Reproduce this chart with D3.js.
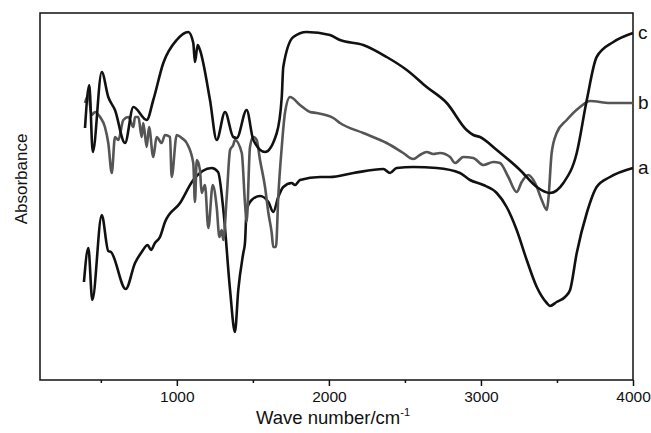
<!DOCTYPE html>
<html>
<head>
<meta charset="utf-8">
<script src="https://cdnjs.cloudflare.com/ajax/libs/d3/7.8.5/d3.min.js"></script>
<style>
  body { margin: 0; background: #fff; }
  text { font-family: Arial, "Liberation Sans", sans-serif; fill: #111; }
</style>
</head>
<body>
<div id="vis"></div>
<script>
// wave number (cm-1) / absorbance (a.u.)
const waveA = [389, 418, 444, 506, 549, 567, 664, 725, 769, 808, 830, 856, 889, 922, 1021, 1108, 1229, 1271, 1306, 1350, 1382, 1404, 1437, 1448, 1459, 1492, 1547, 1602, 1634, 1667, 1700, 1755, 1777, 1810, 1942, 2007, 2161, 2358, 2402, 2446, 2555, 2709, 2862, 2928, 3016, 3104, 3169, 3235, 3301, 3367, 3433, 3454, 3498, 3553, 3586, 3630, 3696, 3761, 3849, 4000];
const absA  = [0.98, 1.32, 0.80, 1.65, 1.29, 1.28, 0.91, 1.17, 1.28, 1.35, 1.30, 1.37, 1.43, 1.58, 1.77, 2.00, 2.12, 2.08, 1.70, 0.90, 0.48, 0.90, 1.27, 1.37, 1.70, 1.80, 1.84, 1.78, 1.68, 1.83, 1.93, 1.97, 1.95, 2.00, 2.03, 2.03, 2.07, 2.11, 2.07, 2.12, 2.13, 2.12, 2.07, 2.00, 1.95, 1.87, 1.73, 1.50, 1.20, 0.93, 0.77, 0.74, 0.78, 0.83, 0.90, 1.27, 1.67, 1.93, 2.03, 2.12];

const waveB = [396, 418, 440, 462, 495, 527, 549, 572, 593, 615, 648, 681, 714, 725, 747, 769, 779, 802, 817, 845, 867, 900, 922, 955, 966, 999, 1032, 1065, 1108, 1119, 1131, 1152, 1163, 1185, 1207, 1236, 1262, 1280, 1295, 1306, 1328, 1350, 1371, 1382, 1427, 1448, 1459, 1481, 1503, 1525, 1547, 1580, 1602, 1624, 1634, 1652, 1667, 1690, 1711, 1744, 1810, 1876, 1920, 2029, 2073, 2226, 2380, 2489, 2555, 2599, 2643, 2687, 2731, 2797, 2830, 2884, 2950, 3016, 3081, 3125, 3180, 3235, 3268, 3311, 3356, 3400, 3433, 3443, 3465, 3498, 3564, 3652, 3717, 3849, 4000];
const absB  = [2.77, 2.85, 2.65, 2.68, 2.63, 2.53, 2.37, 2.07, 2.43, 2.40, 2.60, 2.63, 2.53, 2.63, 2.63, 2.43, 2.57, 2.33, 2.53, 2.23, 2.43, 2.37, 2.45, 2.43, 2.03, 2.45, 2.42, 2.37, 2.17, 1.78, 2.20, 2.10, 1.87, 1.95, 1.52, 1.95, 1.73, 1.43, 1.50, 1.40, 1.83, 2.30, 2.35, 2.40, 2.27, 1.77, 1.58, 2.33, 2.43, 2.40, 2.20, 1.93, 1.67, 1.47, 1.33, 1.33, 1.83, 2.33, 2.67, 2.83, 2.75, 2.68, 2.67, 2.62, 2.57, 2.47, 2.37, 2.27, 2.21, 2.25, 2.28, 2.26, 2.27, 2.23, 2.17, 2.23, 2.22, 2.15, 2.18, 2.17, 2.03, 1.88, 1.98, 2.05, 1.97, 1.80, 1.70, 1.80, 2.27, 2.47, 2.60, 2.73, 2.79, 2.77, 2.77];

const waveC = [396, 424, 447, 506, 549, 593, 659, 714, 802, 845, 911, 999, 1075, 1108, 1119, 1137, 1152, 1218, 1262, 1317, 1371, 1394, 1459, 1503, 1580, 1657, 1690, 1700, 1766, 1854, 2007, 2073, 2226, 2380, 2512, 2643, 2775, 2906, 2950, 2994, 3104, 3257, 3367, 3454, 3542, 3630, 3696, 3761, 3871, 4000];
const absC  = [2.52, 2.95, 2.28, 3.08, 2.83, 2.70, 2.37, 2.73, 2.60, 2.80, 3.17, 3.40, 3.48, 3.37, 3.18, 3.35, 3.30, 2.80, 2.40, 2.68, 2.43, 2.42, 2.70, 2.40, 2.28, 2.47, 2.83, 3.13, 3.43, 3.48, 3.45, 3.40, 3.35, 3.23, 3.10, 2.93, 2.77, 2.50, 2.45, 2.43, 2.30, 2.10, 1.93, 1.87, 1.97, 2.27, 2.80, 3.23, 3.38, 3.47];

const seriesNames = ["a", "b", "c"];
const seriesColors = ["#111", "#555", "#111"];
const xTicks = [1000, 2000, 3000, 4000];
const xMinorTicks = [500, 1500, 2500, 3500];

const W = 651, H = 433;
const margin = {left: 40, right: 18, top: 13, bottom: 53};

const svg = d3.select("#vis").append("svg")
  .attr("width", W).attr("height", H);

const x = d3.scaleLinear().domain([100, 4000]).range([margin.left, W - margin.right]);
const y = d3.scaleLinear().domain([0, 3.67]).range([H - margin.bottom, margin.top]);

// frame
svg.append("rect")
  .attr("x", x.range()[0]).attr("y", y.range()[1])
  .attr("width", x.range()[1] - x.range()[0])
  .attr("height", y.range()[0] - y.range()[1])
  .attr("fill", "none").attr("stroke", "#111").attr("stroke-width", 1.5);

// x axis
const xAxis = svg.append("g")
  .attr("transform", "translate(0," + y.range()[0] + ")")
  .call(d3.axisBottom(x).tickValues(xTicks).tickSize(6).tickPadding(5).tickFormat(d3.format("d")));
xAxis.select(".domain").remove();
xAxis.selectAll("line").attr("stroke", "#111").attr("stroke-width", 1.5);
xAxis.selectAll("text").style("font-size", "15.5px").attr("font-family", null).attr("fill", "#111");

svg.append("g")
  .attr("transform", "translate(0," + y.range()[0] + ")")
  .call(d3.axisBottom(x).tickValues(xMinorTicks).tickSize(3).tickFormat(""))
  .call(g => g.select(".domain").remove())
  .selectAll("line").attr("stroke", "#111").attr("stroke-width", 1.5);

// labels
const xl = svg.append("text")
  .attr("x", 333).attr("y", 424)
  .attr("text-anchor", "middle")
  .style("font-size", "18.5px");
xl.append("tspan").text("Wave number/cm");
xl.append("tspan").attr("dy", -8).style("font-size", "11px").text("-1");

svg.append("text")
  .attr("transform", "translate(27,179) rotate(-90)")
  .attr("text-anchor", "middle")
  .style("font-size", "17px")
  .text("Absorbance");

// spectra
const line = d3.line()
  .x(d => x(d[0]))
  .y(d => y(d[1]))
  .curve(d3.curveMonotoneX);

const series = [
  {name: "a", data: d3.zip(waveA, absA)},
  {name: "b", data: d3.zip(waveB, absB)},
  {name: "c", data: d3.zip(waveC, absC)}
];

svg.append("g").selectAll("path")
  .data(series)
  .join("path")
  .attr("fill", "none")
  .attr("stroke", (d, i) => seriesColors[i])
  .attr("stroke-width", 2.6)
  .attr("stroke-linejoin", "round")
  .attr("d", d => line(d.data));

// end labels
svg.append("g").selectAll("text")
  .data(series)
  .join("text")
  .attr("x", 638)
  .attr("y", d => y(d.data[d.data.length - 1][1]) + 6)
  .style("font-size", "19px")
  .text(d => d.name);
</script>
</body>
</html>
